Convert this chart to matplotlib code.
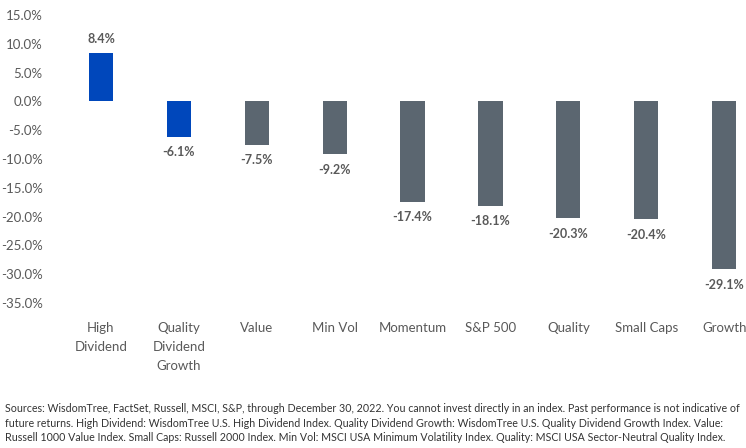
import matplotlib.pyplot as plt
from matplotlib.ticker import FuncFormatter

categories = ["High\nDividend", "Quality\nDividend\nGrowth", "Value", "Min Vol",
              "Momentum", "S&P 500", "Quality", "Small Caps", "Growth"]
returns = [8.4, -6.1, -7.5, -9.2, -17.4, -18.1, -20.3, -20.4, -29.1]
value_labels = ["8.4%", "-6.1%", "-7.5%", "-9.2%", "-17.4%", "-18.1%",
                "-20.3%", "-20.4%", "-29.1%"]
bar_colors = ["#0047BB", "#0047BB", "#5B6670", "#5B6670", "#5B6670",
              "#5B6670", "#5B6670", "#5B6670", "#5B6670"]
y_ticks = [15, 10, 5, 0, -5, -10, -15, -20, -25, -30, -35]

footnote = ("Sources: WisdomTree, FactSet, Russell, MSCI, S&P, through December 30, 2022. "
            "You cannot invest directly in an index. Past performance is not indicative of\n"
            "future returns. High Dividend: WisdomTree U.S. High Dividend Index. Quality Dividend "
            "Growth: WisdomTree U.S. Quality Dividend Growth Index. Value:\n"
            "Russell 1000 Value Index. Small Caps: Russell 2000 Index. Min Vol: MSCI USA Minimum "
            "Volatility Index. Quality: MSCI USA Sector-Neutral Quality Index.")

plt.rcParams["font.family"] = ["Lato", "DejaVu Sans"]
text_gray = "#595959"

fig = plt.figure(figsize=(7.46, 4.48), dpi=100)
ax = fig.add_axes([62 / 746, 1 - 303 / 448, (746 - 62) / 746, 288 / 448])

x = list(range(len(categories)))
ax.bar(x, returns, width=0.31, color=bar_colors)

for xi, v, lab in zip(x, returns, value_labels):
    if v >= 0:
        ax.annotate(lab, (xi, v), xytext=(0, 6), textcoords="offset points",
                    ha="center", va="bottom", fontsize=9, fontweight="bold",
                    color=text_gray)
    else:
        ax.annotate(lab, (xi, v), xytext=(0, -7), textcoords="offset points",
                    ha="center", va="top", fontsize=9, fontweight="bold",
                    color=text_gray)

ax.set_ylim(-35, 15)
ax.set_xlim(-0.5, 8.28)
ax.set_yticks(y_ticks)
ax.yaxis.set_major_formatter(FuncFormatter(lambda v, p: f"{v:.1f}%"))
ax.set_xticks(x)
ax.set_xticklabels(categories, linespacing=1.7)
ax.tick_params(axis="both", length=0, labelsize=9.5, colors=text_gray)
ax.tick_params(axis="x", pad=14)
ax.tick_params(axis="y", pad=14)
for s in ax.spines.values():
    s.set_visible(False)

fig.text(5 / 746, 1 - 403 / 448, footnote, ha="left", va="top", fontsize=7.7,
         color="#333333", linespacing=1.4)

fig.savefig("out.png", dpi=100)
